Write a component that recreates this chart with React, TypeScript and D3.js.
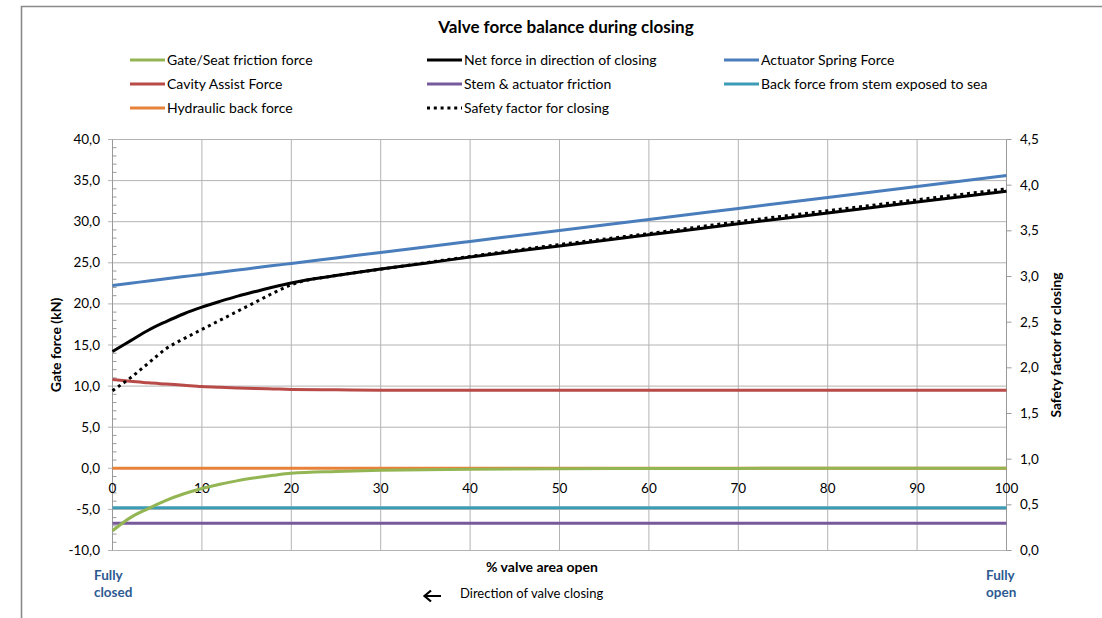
import React from "react";
import * as d3 from "d3";

// % valve area open
const openPct = [0, 2, 4, 6, 8, 10, 12, 14, 16, 18, 20, 25, 30, 35, 40, 50, 60, 70, 80, 90, 100];

// forces in kN
const gateSeat = [-7.6, -6.0, -4.9, -3.9, -3.1, -2.45, -1.95, -1.5, -1.15, -0.85, -0.6, -0.38, -0.25, -0.17, -0.12, -0.06, -0.03, -0.01, 0, 0, 0];
const netForce = [14.2, 15.5, 16.8, 17.85, 18.8, 19.6, 20.3, 20.95, 21.5, 22.05, 22.55, 23.45, 24.25, 24.95, 25.7, 27.05, 28.4, 29.75, 31.05, 32.4, 33.7];
const springForce = [22.25, 22.52, 22.78, 23.05, 23.32, 23.59, 23.85, 24.12, 24.39, 24.66, 24.92, 25.59, 26.26, 26.93, 27.6, 28.94, 30.27, 31.61, 32.95, 34.28, 35.62];
const cavityAssist = [10.8, 10.6, 10.4, 10.25, 10.1, 9.95, 9.85, 9.77, 9.7, 9.65, 9.6, 9.55, 9.5, 9.5, 9.48, 9.48, 9.48, 9.48, 9.48, 9.48, 9.48];
const stemFriction = [-6.7, -6.7, -6.7, -6.7, -6.7, -6.7, -6.7, -6.7, -6.7, -6.7, -6.7, -6.7, -6.7, -6.7, -6.7, -6.7, -6.7, -6.7, -6.7, -6.7, -6.7];
const backForceSea = [-4.8, -4.8, -4.8, -4.8, -4.8, -4.8, -4.8, -4.8, -4.8, -4.8, -4.8, -4.8, -4.8, -4.8, -4.8, -4.8, -4.8, -4.8, -4.8, -4.8, -4.8];
const hydraulicBack = [0, 0, 0, 0, 0, 0, 0, 0, 0, 0, 0, 0, 0, 0, 0, 0, 0, 0, 0, 0, 0];
// safety factor (right axis)
const safetyFactor = [1.75, 1.89, 2.05, 2.21, 2.32, 2.42, 2.52, 2.62, 2.72, 2.82, 2.91, 3.01, 3.08, 3.15, 3.22, 3.35, 3.47, 3.6, 3.72, 3.84, 3.96];

const leftTicks = [-10, -5, 0, 5, 10, 15, 20, 25, 30, 35, 40];
const rightTicks = [0, 0.5, 1, 1.5, 2, 2.5, 3, 3.5, 4, 4.5];
const xTicks = [0, 10, 20, 30, 40, 50, 60, 70, 80, 90, 100];

const legendItems = [
  { name: "Gate/Seat friction force", color: "#93b553", dotted: false },
  { name: "Net force in direction of closing", color: "#000000", dotted: false },
  { name: "Actuator Spring Force", color: "#4a7dbb", dotted: false },
  { name: "Cavity Assist Force", color: "#b84a47", dotted: false },
  { name: "Stem & actuator friction", color: "#775a9c", dotted: false },
  { name: "Back force from stem exposed to sea", color: "#3d9cb5", dotted: false },
  { name: "Hydraulic back force", color: "#e8823a", dotted: false },
  { name: "Safety factor for closing", color: "#000000", dotted: true },
];
const colorOf = (name: string) => legendItems.find((d) => d.name === name)!.color;

const FONT = "Lato, 'Liberation Sans', sans-serif";
const fmt = (v: number, d: number) => v.toFixed(d).replace(".", ",");

export default function App() {
  const W = 1102;
  const H = 618;

  const x = d3.scaleLinear().domain([0, 100]).range([112.5, 1006.5]);
  const yL = d3.scaleLinear().domain([-10, 40]).range([550.5, 139.5]);
  const yR = d3.scaleLinear().domain([0, 4.5]).range([550.5, 139.5]);

  const lineL = (vals: number[]) =>
    d3.line<number>().x((_, i) => x(openPct[i])).y((v) => yL(v)).curve(d3.curveMonotoneX)(vals) || "";
  const lineR = (vals: number[]) =>
    d3.line<number>().x((_, i) => x(openPct[i])).y((v) => yR(v)).curve(d3.curveMonotoneX)(vals) || "";

  const minorTicks = d3.range(-10, 41, 1).filter((v) => v % 5 !== 0);
  const gridColor = "#b3b3b3";
  const axisColor = "#9a9a9a";

  const colX = [130, 427, 724];
  const rowY = [60, 84, 108];

  return (
    <svg width={W} height={H} style={{ position: "absolute", left: 0, top: 0, display: "block" }} fontFamily={FONT}>
      <rect width={W} height={H} fill="#fff" />
      {/* chart frame */}
      <path d={`M21.5,${H} V6.5 H${W}`} fill="none" stroke="#8a8a8a" strokeWidth={1.6} />

      <text x={566} y={33} textAnchor="middle" fontSize={17} fontWeight="bold" fill="#000">
        Valve force balance during closing
      </text>

      {/* legend */}
      {legendItems.map((d, i) => {
        const cx = colX[i % 3];
        const cy = rowY[Math.floor(i / 3)];
        return (
          <g key={d.name}>
            <line
              x1={cx}
              x2={cx + 35}
              y1={cy}
              y2={cy}
              stroke={d.color}
              strokeWidth={3}
              strokeDasharray={d.dotted ? "3 3.8" : undefined}
            />
            <text x={cx + 37} y={cy + 5} fontSize={14} fill="#000">
              {d.name}
            </text>
          </g>
        );
      })}

      {/* grid */}
      {leftTicks.map((t) => (
        <line key={"h" + t} x1={108} x2={x(100)} y1={yL(t)} y2={yL(t)} stroke={gridColor} strokeWidth={1} />
      ))}
      {xTicks.slice(1, -1).map((t) => (
        <line key={"v" + t} x1={x(t)} x2={x(t)} y1={yL(40)} y2={yL(-10)} stroke={gridColor} strokeWidth={1} />
      ))}

      {/* left axis */}
      <line x1={x(0)} x2={x(0)} y1={yL(40)} y2={yL(-10)} stroke={axisColor} />
      {minorTicks.map((t) => (
        <line key={"m" + t} x1={x(0)} x2={x(0) + 4} y1={yL(t)} y2={yL(t)} stroke={axisColor} />
      ))}
      {leftTicks.map((t) => (
        <text key={"lt" + t} x={100} y={yL(t) + 4.5} textAnchor="end" fontSize={13.5} fill="#000">
          {fmt(t, 1)}
        </text>
      ))}
      <text transform={`translate(61,345) rotate(-90)`} textAnchor="middle" fontSize={14} fontWeight="bold">
        Gate force (kN)
      </text>

      {/* right axis */}
      <line x1={x(100)} x2={x(100)} y1={yR(4.5)} y2={yR(0)} stroke={axisColor} />
      {rightTicks.map((t) => (
        <g key={"rt" + t}>
          <line x1={x(100)} x2={x(100) + 5} y1={yR(t)} y2={yR(t)} stroke={axisColor} />
          <text x={1020} y={yR(t) + 4.5} fontSize={13.5} fill="#000">
            {fmt(t, 1)}
          </text>
        </g>
      ))}
      <text transform={`translate(1061,345) rotate(-90)`} textAnchor="middle" fontSize={13.8} fontWeight="bold">
        Safety factor for closing
      </text>

      {/* x axis at zero */}
      <line x1={x(0)} x2={x(100)} y1={yL(0)} y2={yL(0)} stroke={axisColor} />
      {xTicks.map((t) => (
        <text key={"xt" + t} x={x(t)} y={yL(0) + 24.5} textAnchor="middle" fontSize={13.5} fill="#000">
          {t}
        </text>
      ))}

      {/* series */}
      <path d={lineL(hydraulicBack)} fill="none" stroke={colorOf("Hydraulic back force")} strokeWidth={3} />
      <path d={lineL(backForceSea)} fill="none" stroke={colorOf("Back force from stem exposed to sea")} strokeWidth={3.2} />
      <path d={lineL(stemFriction)} fill="none" stroke={colorOf("Stem & actuator friction")} strokeWidth={3} />
      <path d={lineL(cavityAssist)} fill="none" stroke={colorOf("Cavity Assist Force")} strokeWidth={3} />
      <path d={lineL(gateSeat)} fill="none" stroke={colorOf("Gate/Seat friction force")} strokeWidth={3} />
      <path d={lineL(springForce)} fill="none" stroke={colorOf("Actuator Spring Force")} strokeWidth={3} />
      <path d={lineL(netForce)} fill="none" stroke="#000" strokeWidth={3} />
      <path d={lineR(safetyFactor)} fill="none" stroke="#000" strokeWidth={3} strokeDasharray="3 3.8" />

      {/* bottom annotations */}
      <text x={542} y={572} textAnchor="middle" fontSize={14} fontWeight="bold">
        % valve area open
      </text>
      <path d="M441,596 H425 M431,590.5 L424.5,596 L431,601.5" fill="none" stroke="#000" strokeWidth={2.2} />
      <text x={460} y={598} fontSize={13}>
        Direction of valve closing
      </text>
      <text x={94} y={580} fontSize={13.5} fontWeight="bold" fill="#2c5a91">
        <tspan x={94}>Fully</tspan>
        <tspan x={94} dy={17}>closed</tspan>
      </text>
      <text x={986} y={580} fontSize={13.5} fontWeight="bold" fill="#2c5a91">
        <tspan x={986}>Fully</tspan>
        <tspan x={986} dy={17}>open</tspan>
      </text>
    </svg>
  );
}
